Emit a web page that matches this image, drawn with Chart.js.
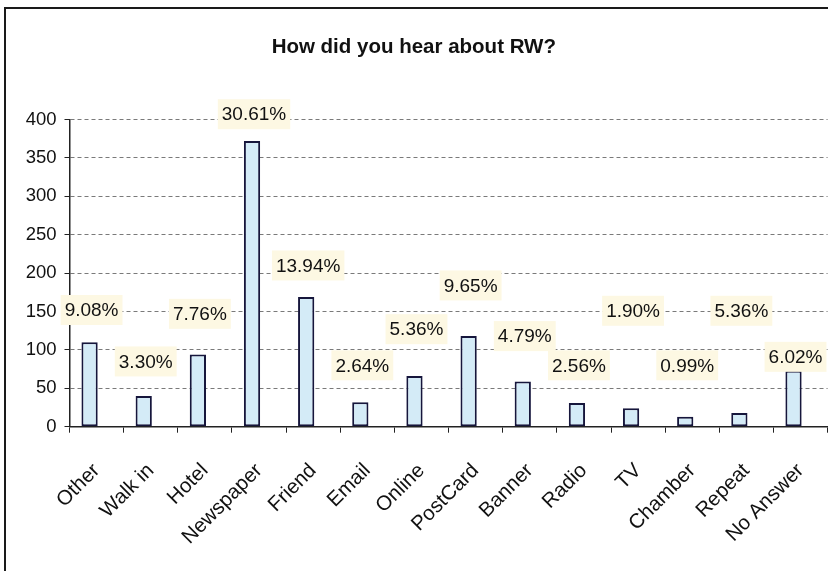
<!DOCTYPE html>
<html>
<head>
<meta charset="utf-8">
<title>How did you hear about RW?</title>
<script src="https://cdn.jsdelivr.net/npm/chart.js@4.4.1/dist/chart.umd.min.js"></script>
<style>
  html, body { margin: 0; padding: 0; background: #fff; overflow: hidden; }
  #sheet {
    position: absolute; left: 4px; top: 7px; width: 900px; height: 600px;
    border-left: 2px solid #1a1a1a; border-top: 2px solid #1a1a1a;
  }
  #wrap { position: absolute; left: 0; top: 0; width: 836px; height: 571px; }
</style>
</head>
<body>
<div id="sheet"></div>
<div id="wrap"><canvas id="survey-chart" width="836" height="571"></canvas></div>
<script>
const categories = ['Other', 'Walk in', 'Hotel', 'Newspaper', 'Friend', 'Email', 'Online',
  'PostCard', 'Banner', 'Radio', 'TV', 'Chamber', 'Repeat', 'No Answer'];
const responses = [110, 40, 94, 372, 169, 32, 66, 118, 59, 31, 24, 13, 18, 73];
const shareLabels = ['9.08%', '3.30%', '7.76%', '30.61%', '13.94%', '2.64%', '5.36%',
  '9.65%', '4.79%', '2.56%', '1.90%', '0.99%', '5.36%', '6.02%'];

const FONT = '"Liberation Sans", Arial, sans-serif';
Chart.defaults.font.family = FONT;

// bars sit a little left of the category centre, like a second (empty) series slot
const BAR_SHIFT = 7;

// where each share label box sits, in axis units, staggered so they don't collide
const labelHeights = [152, 85, 147, 407, 210, 80, 127, 184, 118, 80, 151, 80, 151, 91];

const shareLabelPlugin = {
  id: 'shareLabels',
  beforeDatasetsDraw(chart) {
    chart.ctx.save();
    chart.ctx.translate(-BAR_SHIFT, 0);
  },
  afterDatasetsDraw(chart) {
    const { ctx, scales: { y } } = chart;
    ctx.restore();
    const bars = chart.getDatasetMeta(0).data;
    ctx.save();
    ctx.font = '19px ' + FONT;
    ctx.textAlign = 'center';
    ctx.textBaseline = 'middle';
    bars.forEach((bar, i) => {
      const text = shareLabels[i];
      const cx = bar.x - BAR_SHIFT + 2;
      const cy = y.getPixelForValue(labelHeights[i]);
      const w = ctx.measureText(text).width + 8;
      const h = 30;
      ctx.fillStyle = '#fdf8e3';
      ctx.fillRect(cx - w / 2, cy - h / 2, w, h);
      ctx.fillStyle = '#111';
      ctx.fillText(text, cx, cy + 1);
    });
    ctx.restore();
  }
};

new Chart(document.getElementById('survey-chart'), {
  type: 'bar',
  data: {
    labels: categories,
    datasets: [{
      data: responses,
      backgroundColor: '#d4ebf7',
      borderColor: '#16163c',
      borderWidth: 2,
      borderSkipped: false,
      barPercentage: 0.3,
      categoryPercentage: 1
    }]
  },
  options: {
    responsive: false,
    animation: false,
    layout: { padding: { left: 0, right: 8.4, top: 0, bottom: 0 } },
    plugins: {
      legend: { display: false },
      tooltip: { enabled: false },
      title: {
        display: true,
        text: 'How did you hear about RW?',
        color: '#111',
        font: { size: 20.5, weight: 'bold' },
        padding: { top: 35, bottom: 60 }
      }
    },
    scales: {
      x: {
        offset: true,
        grid: { drawOnChartArea: false, offset: true, tickLength: 6, color: '#222' },
        border: { color: '#222', width: 1.5 },
        ticks: {
          color: '#111', font: { size: 20.5 },
          minRotation: 45, maxRotation: 45, autoSkip: false, padding: 26
        },
        afterFit(scale) {
          scale.height = 144.3;
          // rotated labels shouldn't squeeze the plot sideways
          scale.paddingLeft = 0;
          scale.paddingRight = 0;
        }
      },
      y: {
        min: 0,
        max: 400,
        ticks: { stepSize: 50, color: '#111', font: { size: 18.5 }, padding: 8 },
        grid: {
          color: ctx => ctx.tick && ctx.tick.value === 0 ? 'rgba(0,0,0,0)' : '#7a7a7a',
          tickLength: 5,
          tickColor: '#222'
        },
        border: { color: '#222', width: 1.5, dash: [4, 3] },
        afterFit(scale) { scale.width = 69.5; }
      }
    }
  },
  plugins: [shareLabelPlugin]
});
</script>
</body>
</html>
